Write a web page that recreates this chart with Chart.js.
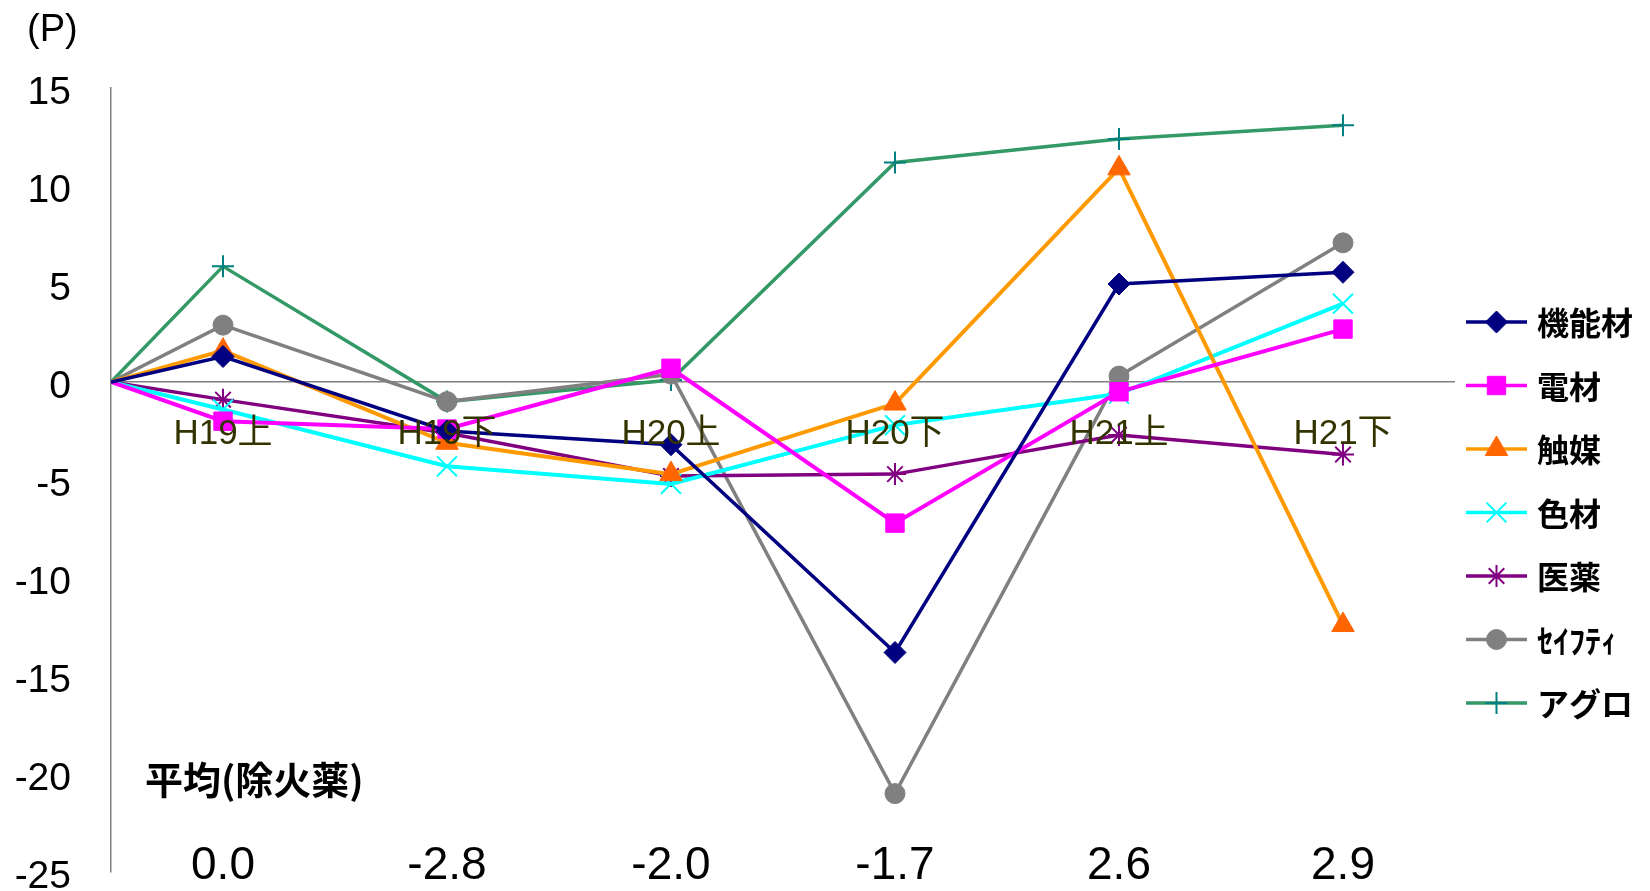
<!DOCTYPE html>
<html>
<head>
<meta charset="utf-8">
<script src="https://cdn.jsdelivr.net/npm/chart.js@4.4.1/dist/chart.umd.min.js"></script>
<style>
  body { margin: 0; background: #fff; }
  #wrap { width: 1650px; height: 891px; position: relative; }
</style>
</head>
<body>
<div id="wrap"><canvas id="trendChart" width="1650" height="891"></canvas></div>
<script>
// 区分と平均(除火薬)
const periods = ["H19上", "H19下", "H20上", "H20下", "H21上", "H21下"];
const averages = ["0.0", "-2.8", "-2.0", "-1.7", "2.6", "2.9"];
const yTicks = [15, 10, 5, 0, -5, -10, -15, -20, -25];

// 各セグメント (P)
const kinozai = [1.3, -2.5, -3.2, -13.8, 5.0, 5.6];
const denzai = [-2.0, -2.4, 0.7, -7.2, -0.5, 2.7];
const shokubai = [1.6, -3.1, -4.7, -1.1, 10.9, -12.4];
const shikizai = [-1.4, -4.3, -5.2, -2.2, -0.6, 4.0];
const iyaku = [-0.9, -2.6, -4.8, -4.7, -2.7, -3.7];
const safety = [2.9, -1.0, 0.4, -21.0, 0.3, 7.1];
const agro = [5.9, -1.0, 0.1, 11.2, 12.4, 13.1];

const seriesDefs = [
  { label: "機能材", data: kinozai, line: "#000080", fill: "#000080", style: "rectRot", r: 11, w: 3.5 },
  { label: "電材", data: denzai, line: "#FF00FF", fill: "#FF00FF", style: "rect", r: 13, w: 4 },
  { label: "触媒", data: shokubai, line: "#FF9900", fill: "#FF6600", style: "triangle", r: 13, w: 4 },
  { label: "色材", data: shikizai, line: "#00FFFF", fill: "#00FFFF", style: "crossRot", r: 14, w: 4 },
  { label: "医薬", data: iyaku, line: "#800080", fill: "#800080", style: "star", r: 11, w: 3.5 },
  { label: "ｾｲﾌﾃｨ", data: safety, line: "#808080", fill: "#808080", style: "circle", r: 10, w: 3.5 },
  { label: "アグロ", data: agro, line: "#339966", fill: "#008080", style: "cross", r: 11, w: 3.5 },
];

// 原点(0)から各期へ
function toPoints(values) {
  return [{ x: -0.5, y: 0 }].concat(values.map((v, i) => ({ x: i, y: v })));
}

function markBorder(style) {
  return style === "cross" || style === "crossRot" || style === "star" ? 2 : 1;
}

const datasets = seriesDefs.map((s) => ({
  label: s.label,
  data: toPoints(s.data),
  borderColor: s.line,
  backgroundColor: s.fill,
  borderWidth: s.w,
  pointStyle: s.style,
  pointRadius: [0].concat(s.data.map(() => s.r)),
  pointBackgroundColor: s.fill,
  pointBorderColor: s.fill,
  pointBorderWidth: markBorder(s.style),
  tension: 0,
}));

const latin = '"Liberation Sans", Arial, "Noto Sans CJK JP", sans-serif';
const jp = '"Noto Sans CJK JP", sans-serif';

const overlayPlugin = {
  id: "overlay",
  afterDatasetsDraw(chart) {
    const { ctx, scales } = chart;
    const xs = scales.x;
    const ys = scales.y;
    const zeroY = ys.getPixelForValue(0);
    ctx.save();

    // 期ラベル (0 線の下)
    ctx.fillStyle = "#333300";
    ctx.font = "35px " + latin;
    ctx.textAlign = "center";
    ctx.textBaseline = "middle";
    periods.forEach((p, i) => {
      ctx.fillText(p, xs.getPixelForValue(i), zeroY + 52);
    });

    // 平均(除火薬)
    ctx.fillStyle = "#000";
    ctx.font = "46px " + latin;
    averages.forEach((a, i) => {
      ctx.fillText(a, xs.getPixelForValue(i), ys.bottom - 6);
    });
    ctx.textAlign = "left";
    ctx.font = "bold 38px " + jp;
    ctx.fillText("平均(除火薬)", 145, 780);

    // 単位
    ctx.font = "38px " + latin;
    ctx.fillText("(P)", 27, 31);

    // 凡例
    const lx0 = 1466, lx1 = 1527;
    seriesDefs.forEach((s, i) => {
      const y = 322 + i * 63.5;
      ctx.strokeStyle = s.line;
      ctx.lineWidth = 3.5;
      ctx.beginPath();
      ctx.moveTo(lx0, y);
      ctx.lineTo(lx1, y);
      ctx.stroke();
      ctx.fillStyle = s.fill;
      ctx.strokeStyle = s.fill;
      const bw = markBorder(s.style);
      ctx.lineWidth = bw;
      Chart.helpers.drawPoint(ctx, { pointStyle: s.style, radius: s.r, borderWidth: bw, rotation: 0 }, (lx0 + lx1) / 2, y);
      ctx.fillStyle = "#000";
      ctx.font = "bold 32px " + jp;
      ctx.fillText(s.label, 1537, y + 1);
    });
    ctx.restore();
  },
};

new Chart(document.getElementById("trendChart"), {
  type: "line",
  data: { datasets: datasets },
  options: {
    responsive: false,
    maintainAspectRatio: false,
    animation: false,
    devicePixelRatio: 1,
    layout: { padding: { left: 0, right: 195, top: 88, bottom: 19 } },
    plugins: {
      legend: { display: false },
      tooltip: { enabled: false },
    },
    scales: {
      x: {
        type: "linear",
        min: -0.5,
        max: 5.5,
        display: false,
      },
      y: {
        min: -25,
        max: 15,
        afterBuildTicks: (scale) => {
          scale.ticks = yTicks.map((v) => ({ value: v }));
        },
        afterFit: (scale) => {
          scale.width = 111;
          scale.paddingTop = 0;
          scale.paddingBottom = 0;
        },
        grid: {
          drawTicks: false,
          lineWidth: 1.5,
          color: (c) => (c.tick && c.tick.value === 0 ? "#808080" : "rgba(0,0,0,0)"),
        },
        border: { display: true, color: "#808080", width: 1.5 },
        ticks: {
          padding: 40,
          labelOffset: 5,
          color: "#000",
          font: { family: latin, size: 39 },
        },
      },
    },
  },
  plugins: [overlayPlugin],
});
</script>
</body>
</html>
